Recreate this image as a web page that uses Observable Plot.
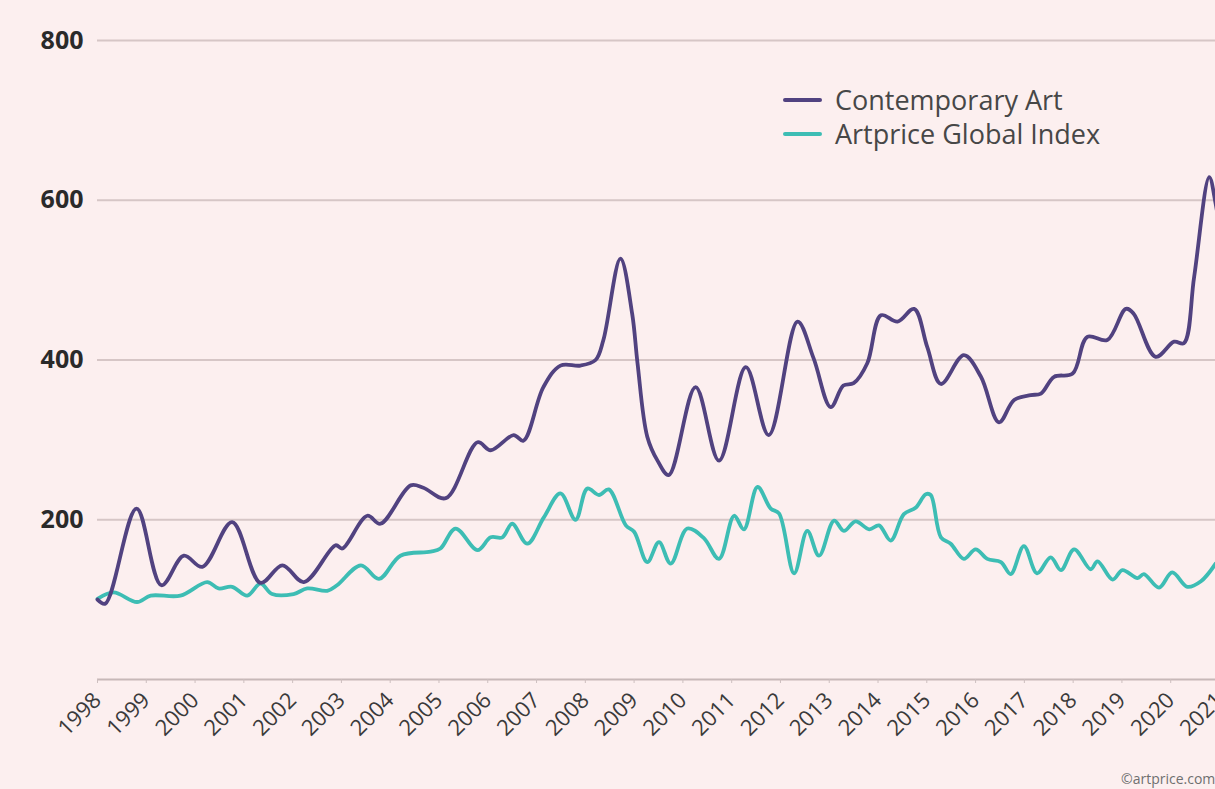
<!DOCTYPE html>
<html>
<head>
<meta charset="utf-8">
<script src="https://cdn.jsdelivr.net/npm/d3@7"></script>
<script src="https://cdn.jsdelivr.net/npm/@observablehq/plot@0.6"></script>
<style>
  html, body { margin: 0; padding: 0; background: #fcefef; width: 1215px; height: 789px; overflow: hidden; }
  #wrap { position: relative; width: 1215px; height: 789px; overflow: hidden; }
  #chart { position: absolute; left: 0; top: 0; width: 1260px; }
  #chart svg { max-width: none !important; }
  .legend { position: absolute; left: 783px; top: 83px; font-family: "Open Sans", sans-serif; font-size: 27px; color: #474747; line-height: 34px; }
  .legend .item { display: flex; align-items: center; white-space: nowrap; }
  .legend .sw { display: inline-block; width: 39px; height: 4px; margin-right: 13px; border-radius: 2px; }
  .caption { position: absolute; left: 1121px; top: 769px; font-family: "Open Sans", sans-serif; font-size: 14px; color: #6f6f6f; white-space: nowrap; }
</style>
</head>
<body>
<div id="wrap">
  <div id="chart"></div>
  <div class="legend" id="legend"></div>
  <div class="caption">©artprice.com</div>
</div>
<script>
// ---- Data ----
const seriesNames = ["Contemporary Art", "Artprice Global Index"];
const seriesColors = ["#514280", "#3dbdb4"];

const artYears = [1998.00, 1998.16, 1998.80, 1999.31, 1999.77, 2000.15, 2000.76, 2001.34, 2001.79, 2002.23,
  2002.88, 2003.02, 2003.53, 2003.80, 2004.42, 2004.68, 2005.14, 2005.79, 2006.06, 2006.53,
  2006.73, 2007.14, 2007.49, 2007.90, 2008.21, 2008.37, 2008.72, 2008.96, 2009.07, 2009.27,
  2009.48, 2009.71, 2010.26, 2010.74, 2011.29, 2011.76, 2012.35, 2012.68, 2013.03, 2013.29,
  2013.50, 2013.78, 2014.06, 2014.40, 2014.74, 2015.01, 2015.29, 2015.76, 2016.11, 2016.48,
  2016.79, 2017.13, 2017.34, 2017.61, 2017.99, 2018.29, 2018.70, 2019.08, 2019.24, 2019.69,
  2020.07, 2020.27, 2020.48, 2020.79, 2020.92, 2021.00];
const artValues = [100, 95, 214, 118, 155, 141, 197, 121, 143, 122,
  168, 164, 205, 195, 243, 240, 227, 297, 287, 306,
  299, 366, 393, 393, 400, 425, 527, 458, 396, 304,
  274, 256, 366, 274, 391, 306, 448, 402, 341, 368,
  371, 396, 456, 448, 464, 416, 370, 406, 379, 322,
  350, 356, 358, 379, 383, 429, 425, 464, 458, 404,
  423, 421, 504, 629, 596, 565];

const globalYears = [1998.00, 1998.33, 1998.81, 1999.09, 1999.70, 2000.25, 2000.48, 2000.76, 2001.07, 2001.34,
  2001.58, 2002.02, 2002.30, 2002.71, 2002.91, 2003.40, 2003.77, 2004.21, 2004.83, 2005.03,
  2005.34, 2005.79, 2006.06, 2006.30, 2006.50, 2006.81, 2007.15, 2007.49, 2007.80, 2008.04,
  2008.28, 2008.48, 2008.83, 2009.00, 2009.27, 2009.51, 2009.75, 2010.09, 2010.43, 2010.74,
  2011.05, 2011.25, 2011.53, 2011.80, 2011.97, 2012.28, 2012.55, 2012.79, 2013.10, 2013.30,
  2013.54, 2013.82, 2014.02, 2014.26, 2014.53, 2014.77, 2014.98, 2015.08, 2015.29, 2015.49,
  2015.76, 2016.00, 2016.24, 2016.52, 2016.72, 2016.99, 2017.26, 2017.54, 2017.75, 2018.02,
  2018.36, 2018.50, 2018.81, 2019.01, 2019.32, 2019.45, 2019.76, 2020.03, 2020.34, 2020.62,
  2020.92];
const globalValues = [101, 109, 97, 105, 105, 122, 114, 116, 105, 120,
  107, 107, 114, 111, 118, 143, 126, 155, 160, 164,
  189, 162, 178, 178, 195, 170, 203, 233, 200, 239,
  231, 238, 193, 185, 147, 172, 145, 189, 177, 151,
  205, 188, 241, 214, 208, 133, 186, 155, 199, 186,
  198, 188, 193, 174, 207, 215, 232, 231, 178, 170,
  151, 163, 151, 147, 132, 167, 133, 153, 137, 163,
  138, 148, 125, 137, 127, 132, 115, 134, 116, 123,
  145];

const yTickValues = [200, 400, 600, 800];
const xTickYears = [1998, 1999, 2000, 2001, 2002, 2003, 2004, 2005, 2006, 2007, 2008, 2009,
  2010, 2011, 2012, 2013, 2014, 2015, 2016, 2017, 2018, 2019, 2020, 2021];

// ---- Build tables ----
const art = artYears.map((t, i) => ({t, v: artValues[i]}));
const glob = globalYears.map((t, i) => ({t, v: globalValues[i]}));

const chart = Plot.plot({
  width: 1260,
  height: 789,
  marginLeft: 97,
  marginRight: 41,
  marginTop: 40,
  marginBottom: 110,
  x: {domain: [1998, 2021]},
  y: {domain: [0, 800]},
  style: {background: "transparent", fontFamily: "Open Sans, sans-serif", overflow: "visible", maxWidth: "none"},
  marks: [
    Plot.gridY(yTickValues, {stroke: "#d6c6c6", strokeOpacity: 1, strokeWidth: 2}),
    Plot.ruleY([0], {stroke: "#c7b8b8", strokeWidth: 2}),
    Plot.axisY(yTickValues, {tickSize: 0, tickPadding: 14, fontSize: 25, fontWeight: 700, fill: "#2a2a2a", label: null}),
    Plot.axisX(xTickYears, {tickRotate: -45, tickSize: 4, tickPadding: 13, fontSize: 22, stroke: "#cdbfbf", fill: "#3a3a3a", label: null, tickFormat: d => String(d)}),
    Plot.line(glob, {x: "t", y: "v", stroke: seriesColors[1], strokeWidth: 3.8, curve: "catmull-rom"}),
    Plot.line(art, {x: "t", y: "v", stroke: seriesColors[0], strokeWidth: 3.8, curve: "catmull-rom"})
  ]
});
document.getElementById("chart").appendChild(chart);

const legend = document.getElementById("legend");
seriesNames.forEach((name, i) => {
  const item = document.createElement("div");
  item.className = "item";
  const sw = document.createElement("span");
  sw.className = "sw";
  sw.style.background = seriesColors[i];
  const label = document.createElement("span");
  label.textContent = name;
  item.appendChild(sw);
  item.appendChild(label);
  legend.appendChild(item);
});
</script>
</body>
</html>
